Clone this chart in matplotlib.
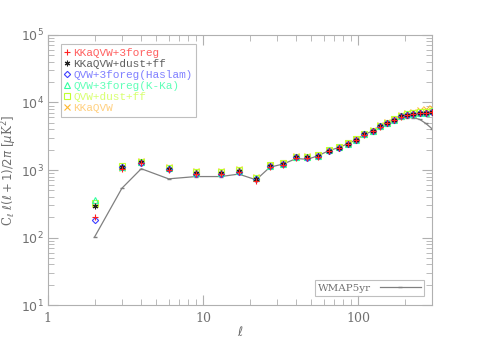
import numpy as np
import matplotlib
matplotlib.use("Agg")
import matplotlib.pyplot as plt
from matplotlib.ticker import LogLocator, NullFormatter
from matplotlib.lines import Line2D

ell = [2, 3, 4, 6, 9, 13, 17, 22, 27, 33, 40, 47, 55, 65, 75, 86, 97,
       110, 124, 139, 153, 171, 188, 207, 227, 250, 273, 300]

kkaqvw_3foreg = [204, 1050, 1250, 990, 860, 860, 930, 690, 1100, 1200, 1500, 1490, 1580, 1900,
                 2120, 2400, 2760, 3320, 3720, 4400, 4900, 5450, 6150, 6500, 6700, 6900, 6900, 7200]
kkaqvw_dustff = [295, 1100, 1300, 1050, 890, 890, 960, 740, 1140, 1230, 1550, 1540, 1620, 1940,
                 2150, 2450, 2800, 3370, 3780, 4470, 4980, 5520, 6260, 6600, 6800, 7000, 6950, 7300]
qvw_haslam = [182, 1100, 1290, 1040, 880, 880, 950, 730, 1130, 1220, 1540, 1530, 1610, 1930,
              2140, 2440, 2790, 3360, 3770, 4460, 4970, 5510, 6240, 6580, 6780, 6980, 6940, 7300]
qvw_kka = [363, 1120, 1310, 1060, 900, 900, 970, 750, 1150, 1240, 1560, 1550, 1630, 1950,
           2160, 2460, 2810, 3380, 3790, 4480, 4990, 5530, 6270, 6640, 6860, 7050, 7000, 7400]
qvw_dustff = [324, 1130, 1330, 1080, 920, 920, 990, 770, 1170, 1260, 1580, 1570, 1650, 1970,
              2190, 2490, 2850, 3420, 3830, 4530, 5050, 5600, 6350, 6750, 6950, 7250, 7250, 7600]
kkaqvw = [310, 1080, 1380, 1120, 960, 960, 1030, 800, 1200, 1280, 1600, 1600, 1680, 2000,
          2200, 2500, 2870, 3450, 3870, 4580, 5120, 5700, 6500, 7000, 7300, 7800, 7900, 8300]

wmap5yr = [102, 537, 1045, 740, 800, 800, 870, 716, 1100, 1230, 1480, 1440, 1620, 1940,
           2150, 2450, 2800, 3370, 3780, 4470, 4980, 5400, 5800, 5970, 5970, 5600, 4900, 4080]

labels = ["KKaQVW+3foreg", "KKaQVW+dust+ff", "QVW+3foreg(Haslam)",
          "QVW+3foreg(K-Ka)", "QVW+dust+ff", "KKaQVW"]

series = [kkaqvw_3foreg, kkaqvw_dustff, qvw_haslam, qvw_kka, qvw_dustff, kkaqvw]
markers = ["+", (6, 2, 0), "D", "^", "s", "x"]
mcolors = ["#ff2020", "#202020", "#4040ff", "#30ffa0", "#c0ff30", "#ffb830"]
tcolors = ["#ff6060", "#606060", "#8080ff", "#60ffb8", "#d8ff70", "#ffd080"]
filled = [True, True, False, False, False, True]
msizes = [4.5, 4, 3.2, 4, 4, 4]

axcol = "#b0b0b0"
txtcol = "#707070"

fig = plt.figure(figsize=(4.79, 3.39), dpi=100)
ax = fig.add_axes([0.100, 0.100, 0.802, 0.797])

wline, = ax.plot(ell, wmap5yr, color="#808080", lw=0.9, marker="_", ms=3, zorder=2)

handles = []
for i in reversed(range(len(series))):
    mfc = mcolors[i] if filled[i] else "none"
    ax.plot(ell, series[i], linestyle="none", marker=markers[i], ms=msizes[i],
            mec=mcolors[i], mfc=mfc, mew=0.8, zorder=3 + (5 - i))
for i in range(len(series)):
    mfc = mcolors[i] if filled[i] else "none"
    handles.append(Line2D([], [], linestyle="none", marker=markers[i], ms=msizes[i],
                          mec=mcolors[i], mfc=mfc, mew=0.8))

ax.set_xscale("log")
ax.set_yscale("log")
ax.set_xlim(1, 300)
ax.set_ylim(10, 1e5)

ax.xaxis.set_minor_locator(LogLocator(base=10, subs=np.arange(2, 10), numticks=10))
ax.xaxis.set_minor_formatter(NullFormatter())
ax.set_xticks([1, 10, 100])
ax.set_xticklabels(["1", "10", "100"], fontfamily="DejaVu Serif")

for s in ax.spines.values():
    s.set_color(axcol)
    s.set_linewidth(0.8)
ax.tick_params(which="both", direction="in", top=True, right=True, colors=axcol,
               labelcolor=txtcol, labelsize=9)
ax.tick_params(axis="x", pad=5)
ax.tick_params(axis="y", pad=3)
ax.tick_params(which="major", length=7)
ax.tick_params(which="minor", length=4)

ax.set_xlabel(r"$\ell$", color=txtcol, fontsize=9)
ax.xaxis.set_label_coords(0.5, -0.075)
ax.set_ylabel(r"C$_\ell$ $\ell(\ell+1)/2\pi$ [$\mu$K$^2$]", color=txtcol, fontsize=8.5,
              fontfamily="DejaVu Serif", labelpad=1)

leg = ax.legend(handles, labels, loc="upper left", bbox_to_anchor=(0.035, 0.965),
                prop={"family": "Liberation Mono", "size": 8}, frameon=True,
                fancybox=False, edgecolor=axcol, handlelength=0.5, handletextpad=0.3,
                labelspacing=0.1, borderpad=0.3, borderaxespad=0)
leg.get_frame().set_linewidth(0.8)
for t, c in zip(leg.get_texts(), tcolors):
    t.set_color(c)
ax.add_artist(leg)

leg2 = ax.legend([wline], ["WMAP5yr"], loc="lower right", bbox_to_anchor=(0.98, 0.035),
                 prop={"family": "DejaVu Serif", "size": 7.5}, frameon=True, fancybox=False,
                 edgecolor=axcol, markerfirst=False, handlelength=4, borderpad=0.3,
                 borderaxespad=0)
leg2.get_frame().set_linewidth(0.8)
for t in leg2.get_texts():
    t.set_color(txtcol)

fig.savefig("out.png", dpi=100)
